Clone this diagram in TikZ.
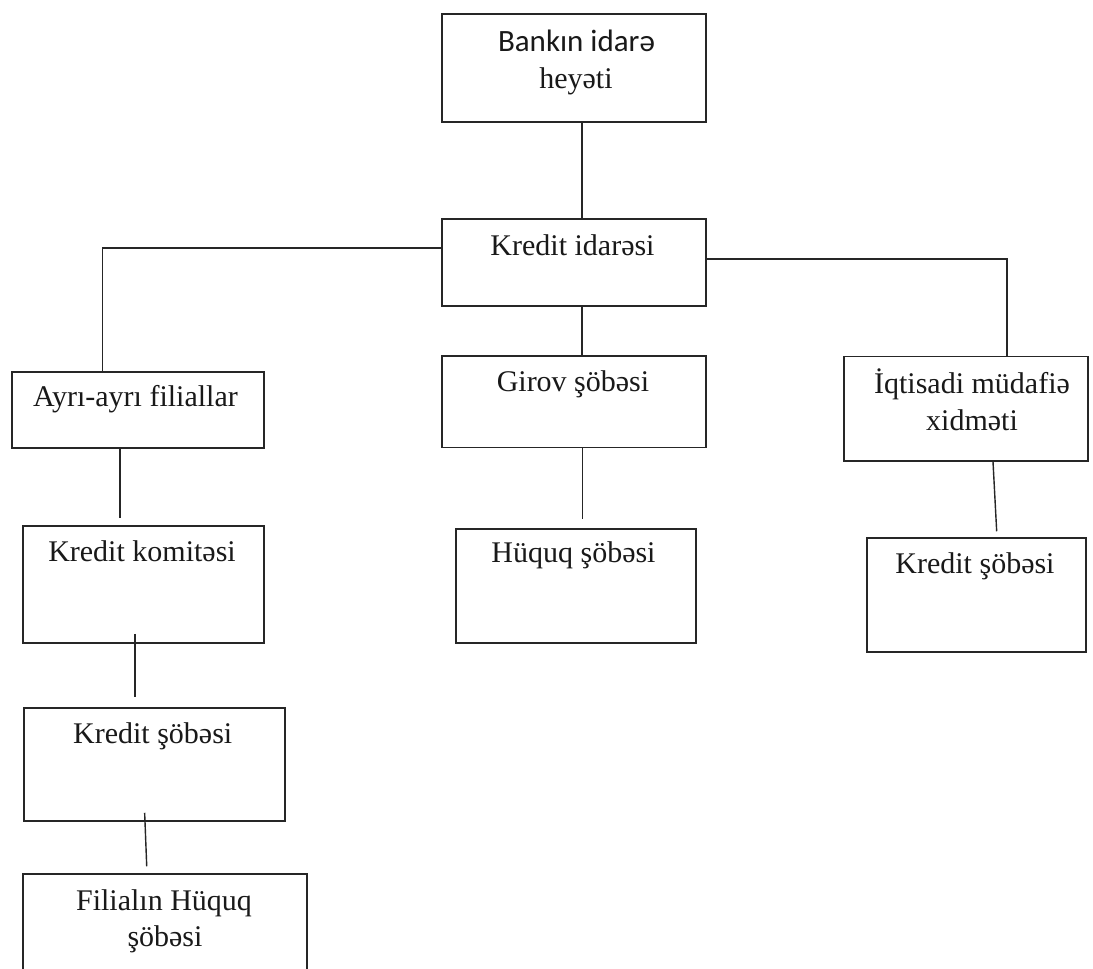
\documentclass[tikz,border=0pt]{standalone}
\usepackage{fontspec}
\setmainfont{Liberation Serif}
\newfontfamily\calib{Carlito}
\usetikzlibrary{calc}
\tikzset{
  orgbox/.style 2 args={draw=black!85, line width=1.5pt, inner sep=0pt, minimum width=#1, minimum height=#2},
  txt/.style={anchor=base, inner sep=0pt, text=black!90, font=\fontsize{30}{36}\selectfont},
  conn/.style={draw=black!85, line width=1.4pt}
}
\begin{document}
\begin{tikzpicture}[x=1pt,y=-1pt]
\useasboundingbox[fill=white] (0,0) rectangle (1093,969);
% boxes
\node[orgbox={264}{108}] (b1) at (574,68) {};
\node[orgbox={264}{87}] (b2) at (574,262.5) {};
\node[orgbox={252}{76}] (b3) at (138,410) {};
\node[orgbox={264}{91.5}] (b4) at (574,401.7) {};
\node[orgbox={244}{104.5}] (b5) at (966,408.7) {};
\node[orgbox={240}{114}] (b6) at (576,586) {};
\node[orgbox={219}{114}] (b7) at (976.5,595) {};
\node[orgbox={241}{117}] (b8) at (143.5,584.5) {};
\node[orgbox={261}{113}] (b9) at (154.5,764.5) {};
\node[orgbox={284}{110}] (b10) at (165,929) {};
% texts
\node[txt, font=\calib\fontsize{31}{36}\selectfont] (t1a) at (576.5,51.7) {Bankın idarə};
\node[txt] (t1b) at (576,88.3) {heyəti};
\node[txt] (t2) at (572.5,255) {Kredit idarəsi};
\node[txt] (t3) at (135.5,406.7) {Ayrı-ayrı filiallar};
\node[txt] (t4) at (573,391) {Girov şöbəsi};
\node[txt] (t5a) at (972,393) {İqtisadi müdafiə};
\node[txt] (t5b) at (972,430) {xidməti};
\node[txt] (t6) at (573.5,562.7) {Hüquq şöbəsi};
\node[txt] (t7) at (975,573) {Kredit şöbəsi};
\node[txt] (t8) at (142,561) {Kredit komitəsi};
\node[txt] (t9) at (152.7,743) {Kredit şöbəsi};
\node[txt] (t10a) at (164,910) {Filialın Hüquq};
\node[txt] (t10b) at (165,946.7) {şöbəsi};
% connectors
\draw[conn] ([xshift=8pt]b1.south) -- ([xshift=8pt]b2.north);
\draw[conn] ([yshift=14.5pt]b2.west) -| ([xshift=-35.5pt]b3.north);
\draw[conn] ([yshift=3.5pt]b2.east) -| ([xshift=41pt]b5.north);
\draw[conn] ([xshift=8pt]b2.south) -- ([xshift=8pt]b4.north);
\draw[conn, shorten >=9pt] ([xshift=8.7pt]b4.south) -- ([xshift=6.7pt]b6.north);
\draw[conn, shorten >=6pt] ([xshift=27pt]b5.south) -- ([xshift=20.5pt]b7.north);
\draw[conn, shorten >=7pt] ([xshift=-18pt]b3.south) -- ([xshift=-23.5pt]b8.north);
\draw[conn, shorten <=-10pt, shorten >=10pt] ([xshift=-8.5pt]b8.south) -- ([xshift=-19.5pt]b9.north);
\draw[conn, shorten <=-9pt, shorten >=7pt] ([xshift=-9.5pt]b9.south) -- ([xshift=-18pt]b10.north);
\end{tikzpicture}
\end{document}
